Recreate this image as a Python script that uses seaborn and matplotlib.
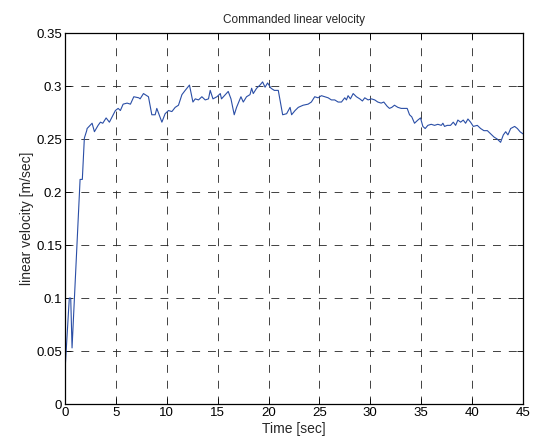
import pandas as pd
import seaborn as sns
from matplotlib import pyplot as plt
import numpy as np

# values
time_sec = [0.00, 0.42, 0.56, 0.69, 1.48, 1.70, 1.90, 2.13, 2.17, 2.66, 2.89, 3.25, 3.48, 3.71,
            4.04, 4.36, 4.63, 4.95, 5.22, 5.44, 5.71, 6.10, 6.43, 6.76, 7.25, 7.38, 7.71, 8.20,
            8.53, 8.86, 9.02, 9.52, 9.84, 10.17, 10.50, 10.83, 11.15, 11.49, 11.81, 12.23, 12.57,
            12.80, 13.12, 13.45, 13.78, 14.10, 14.27, 14.54, 14.93, 15.26, 15.38, 16.04, 16.31,
            16.63, 16.86, 17.29, 17.52, 17.84, 18.18, 18.34, 18.50, 18.83, 19.16, 19.42, 19.66,
            19.91, 20.25, 20.57, 20.96, 21.39, 21.78, 22.12, 22.27, 22.61, 22.93, 23.40, 23.89,
            24.21, 24.54, 24.87, 25.20, 25.52, 25.86, 26.18, 26.51, 26.84, 27.17, 27.49, 27.66,
            27.82, 28.05, 28.32, 28.64, 28.97, 29.23, 29.46, 29.79, 30.12, 30.44, 30.74, 31.07,
            31.33, 31.66, 31.89, 32.12, 32.38, 32.71, 33.04, 33.63, 33.86, 34.08, 34.35, 34.68,
            34.94, 35.17, 35.40, 35.66, 35.99, 36.32, 36.64, 36.98, 37.14, 37.30, 37.57, 37.89,
            38.16, 38.39, 38.61, 38.88, 39.14, 39.37, 39.60, 39.86, 40.13, 40.52, 40.85, 41.17,
            41.51, 41.83, 42.16, 42.49, 42.81, 43.08, 43.31, 43.53, 43.80, 44.19, 44.46, 44.72,
            45.00]
velocity = [0.032, 0.100, 0.100, 0.053, 0.212, 0.212, 0.251, 0.258, 0.260, 0.265, 0.257, 0.263,
            0.266, 0.265, 0.270, 0.266, 0.271, 0.277, 0.279, 0.277, 0.283, 0.284, 0.283, 0.290,
            0.289, 0.288, 0.293, 0.290, 0.273, 0.273, 0.279, 0.266, 0.274, 0.277, 0.276, 0.280,
            0.282, 0.292, 0.296, 0.301, 0.285, 0.288, 0.287, 0.290, 0.287, 0.288, 0.296, 0.288,
            0.290, 0.293, 0.288, 0.295, 0.288, 0.273, 0.280, 0.290, 0.285, 0.290, 0.292, 0.298,
            0.293, 0.298, 0.301, 0.304, 0.299, 0.303, 0.298, 0.296, 0.296, 0.273, 0.274, 0.280,
            0.273, 0.277, 0.280, 0.282, 0.283, 0.285, 0.290, 0.289, 0.291, 0.290, 0.289, 0.287,
            0.287, 0.285, 0.285, 0.289, 0.287, 0.291, 0.288, 0.293, 0.290, 0.288, 0.286, 0.289,
            0.287, 0.288, 0.287, 0.285, 0.284, 0.285, 0.281, 0.279, 0.280, 0.282, 0.280, 0.279,
            0.279, 0.273, 0.271, 0.265, 0.268, 0.270, 0.262, 0.260, 0.263, 0.264, 0.263, 0.264,
            0.263, 0.265, 0.262, 0.263, 0.263, 0.266, 0.263, 0.268, 0.266, 0.268, 0.265, 0.269,
            0.266, 0.262, 0.263, 0.260, 0.258, 0.258, 0.255, 0.252, 0.250, 0.247, 0.254, 0.257,
            0.254, 0.260, 0.262, 0.260, 0.257, 0.255]

x_ticks = np.arange(0, 46, 5)
y_ticks = [0, 0.05, 0.1, 0.15, 0.2, 0.25, 0.3, 0.35]
y_tick_labels = ["0", "0.05", "0.1", "0.15", "0.2", "0.25", "0.3", "0.35"]


def plot_velocity():
    df = pd.DataFrame({"time": time_sec, "v": velocity})
    sns.set_style("ticks")
    plt.rcParams['font.family'] = ['Liberation Sans', 'DejaVu Sans']

    fig = plt.figure(figsize=(5.33, 4.48), dpi=100)
    ax = fig.add_axes([0.122, 0.098, 0.859, 0.828])
    sns.lineplot(data=df, x="time", y="v", ax=ax, color="#2a4ea6", linewidth=0.8)

    ax.set_xlim(0, 45)
    ax.set_ylim(0, 0.35)
    ax.set_xticks(x_ticks)
    ax.set_yticks(y_ticks)
    ax.set_yticklabels(y_tick_labels)
    ax.tick_params(direction="in", top=True, right=True, labelsize=9.5, length=4,
                   width=0.6, colors="black", pad=2)
    ax.grid(True, color="#222222", linestyle=(0, (9.5, 9.5)), linewidth=0.6)
    for spine in ax.spines.values():
        spine.set_visible(True)
        spine.set_linewidth(0.9)
        spine.set_color("black")

    ax.set_xlabel("Time [sec]", fontsize=10, labelpad=2)
    ax.set_ylabel("linear velocity [m/sec]", fontsize=10, labelpad=2)
    ax.set_title("Commanded linear velocity", fontsize=8.5, pad=7)

    fig.savefig("out.png", dpi=100)


plot_velocity()
